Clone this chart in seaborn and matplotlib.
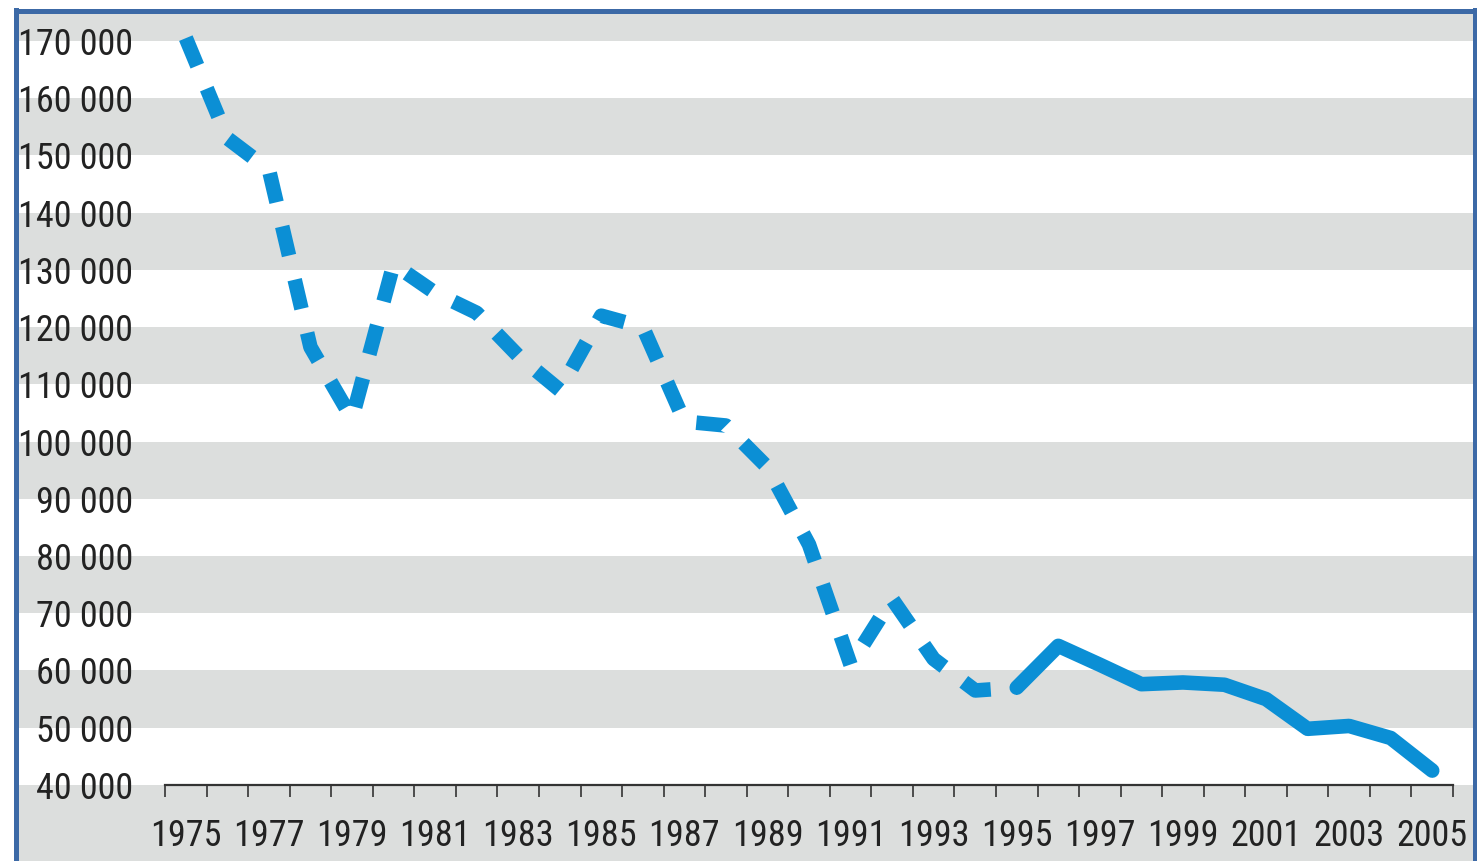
import pandas as pd
import seaborn as sns
import matplotlib.pyplot as plt
import matplotlib.ticker as ticker

# Data
years = list(range(1975, 2006))
values = [170500, 153000, 147500, 116500, 104000, 131000, 126000, 122500,
          115000, 109000, 122000, 120000, 103500, 102800, 95500, 82000,
          61000, 72500, 62000, 56500, 57000, 64300, 61000, 57600, 57900,
          57500, 55000, 49800, 50300, 48200, 42500]
last_dashed_year = 1995
y_ticks = list(range(40000, 170001, 10000))
x_labels = list(range(1975, 2006, 2))

df = pd.DataFrame({'year': years, 'value': values})
dashed = df[df['year'] <= last_dashed_year].assign(period='dashed')
solid = df[df['year'] >= last_dashed_year].assign(period='solid')
plot_df = pd.concat([dashed, solid], ignore_index=True)

# Styling
sns.set_style('white')
plt.rcParams['font.family'] = ['Roboto Condensed', 'Roboto', 'DejaVu Sans']

W, H = 1477, 861
blue = '#0b8fd5'
band = '#dcdedd'
frame = '#3c69a6'

fig = plt.figure(figsize=(W / 100, H / 100), dpi=100, facecolor='white')
ax = fig.add_axes([15.5 / W, 0, (1475 - 15.5) / W, (H - 10.5) / H])

y_low, y_high = 26700, 175330
ax.set_xlim(1970.90, 2006.03)
ax.set_ylim(y_low, y_high)

# Alternating grey bands
ax.axhspan(y_low, y_ticks[0], color=band, lw=0, zorder=0)
for lo in y_ticks[1::2]:
    ax.axhspan(lo, lo + 10000, color=band, lw=0, zorder=0)

# Line: dashed up to 1995, solid after
sns.lineplot(
    data=plot_df, x='year', y='value', style='period',
    dashes={'dashed': (2.05, 1.7), 'solid': ''},
    color=blue, linewidth=10.5, legend=False, ax=ax, zorder=3
)

# Frame and axis line
for s in ['left', 'top', 'right']:
    ax.spines[s].set_color(frame)
    ax.spines[s].set_linewidth(3.6)
ax.spines['bottom'].set_position(('data', y_ticks[0]))
ax.spines['bottom'].set_bounds(years[0] - 0.5, years[-1] + 0.5)
ax.spines['bottom'].set_color('#333333')
ax.spines['bottom'].set_linewidth(1.6)

# Y ticks, labels drawn inside the plot area
ax.set_yticks(y_ticks)
ax.yaxis.set_major_formatter(ticker.FuncFormatter(lambda v, p: f'{int(v):,}'.replace(',', ' ')))
ax.tick_params(axis='y', length=0, pad=-84.5, labelsize=26, labelcolor='#222222')

# X ticks: labels every two years, tick marks between years
ax.set_xticks(x_labels)
ax.set_xticklabels([str(y) for y in x_labels])
ax.set_xticks([y - 0.5 for y in years] + [years[-1] + 0.5], minor=True)
ax.tick_params(axis='x', which='major', length=0, pad=24, labelsize=26, labelcolor='#222222')
ax.tick_params(axis='x', which='minor', bottom=True, direction='out',
               length=8.6, width=1.2, color='#333333')

ax.set_xlabel('')
ax.set_ylabel('')

plt.savefig('out.png', dpi=100, facecolor='white')
